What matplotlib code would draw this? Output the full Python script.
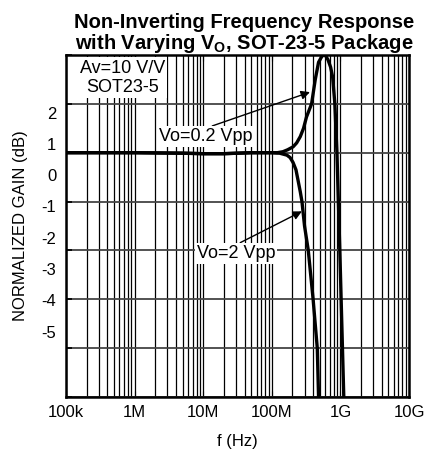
import numpy as np
import matplotlib.pyplot as plt

plt.rcParams['font.family'] = ['Liberation Sans', 'DejaVu Sans']

# frequency (Hz) and normalized gain (dB)
f_small = [1e5, 1e6, 5e6, 1e7, 2e7, 5e7, 1.0e8, 1.2e8, 1.45e8, 1.7e8, 2.04e8, 2.3e8,
           2.6e8, 2.9e8, 3.2e8, 3.8e8, 4.3e8, 4.8e8, 5.4e8, 6.0e8, 6.6e8, 7.2e8,
           7.7e8, 8.3e8, 8.9e8, 9.8e8, 1.12e9]
g_small = [0.0, 0.0, -0.01, -0.02, -0.02, 0.0, 0.0, 0.0, 0.02, 0.06, 0.12, 0.2,
           0.33, 0.5, 0.73, 1.0, 1.5, 1.85, 1.98, 2.0, 1.9, 1.75,
           1.55, 1.0, 0.0, -2.0, -5.0]

f_large = [1e5, 1e6, 5e6, 1e7, 2e7, 5e7, 1.0e8, 1.3e8, 1.66e8, 1.85e8, 2.04e8, 2.25e8,
           2.4e8, 2.6e8, 2.75e8, 3.0e8, 3.4e8, 4.0e8, 4.6e8, 4.8e8]
g_large = [0.0, 0.0, -0.01, -0.02, -0.02, 0.0, 0.0, -0.01, -0.05, -0.1, -0.2, -0.35,
           -0.55, -0.8, -1.0, -1.5, -2.0, -3.0, -4.0, -5.0]

xticks = [1e5, 1e6, 1e7, 1e8, 1e9, 1e10]
xlabels = ['100k', '1M', '10M', '100M', '1G', '10G']
ylabels = ['2', '1', '0', '-1', '-2', '-3', '-4', '-5']

fig = plt.figure(figsize=(4.32, 4.5), dpi=100)
ax = fig.add_axes([0.1528, 0.1178, 0.794, 0.76])

ax.plot(f_small, g_small, color='black', lw=2.4, solid_capstyle='butt', zorder=3)
ax.plot(f_large, g_large, color='black', lw=2.4, solid_capstyle='butt', zorder=3)

ax.set_xscale('log')
ax.set_xlim(1e5, 1e10)
ax.set_ylim(-5, 2)
ax.set_xticks(xticks)
ax.set_xticklabels(xlabels, fontsize=12)
ax.xaxis.set_minor_locator(plt.matplotlib.ticker.LogLocator(base=10, subs=np.arange(2, 10)))
ax.xaxis.set_minor_formatter(plt.NullFormatter())

# gridlines every 1 dB; the labels sit offset from them as in the original
ax.set_yticks(np.arange(-5, 3))
ax.set_yticklabels([])
ypos = [0.82 - 0.64 * i for i in range(len(ylabels))]
ax.set_yticks(ypos, minor=True)
ax.set_yticklabels(ylabels, minor=True, fontsize=12)
ax.tick_params(axis='y', which='minor', length=0, pad=7)
ax.tick_params(axis='y', which='major', length=4, direction='in', width=1.2)
ax.tick_params(axis='x', which='both', direction='in', top=True, length=4, pad=6)

ax.grid(True, axis='x', which='both', color='black', lw=0.9)
ax.grid(True, axis='y', which='major', color='#444444', lw=1.3)
for s in ax.spines.values():
    s.set_linewidth(1.8)

ax.set_xlabel('f (Hz)', fontsize=12, labelpad=10)
ax.set_ylabel('NORMALIZED GAIN (dB)', fontsize=12, labelpad=10)
ax.set_title('Non-Inverting Frequency Response\nwith Varying V$_\\mathregular{O}$, SOT-23-5 Package',
             fontsize=14.5, fontweight='bold', linespacing=1.0, pad=4, x=0.52)

box = dict(boxstyle='square,pad=0.12', fc='white', ec='none')
ax.text(6.6e5, 1.53, 'Av=10 V/V\nSOT23-5', fontsize=13, ha='center', va='center',
        bbox=box, linespacing=1.2)

ax.annotate('Vo=0.2 Vpp', xy=(3.6e8, 1.24), xytext=(1.1e7, 0.33), fontsize=13,
            ha='center', va='center', bbox=box,
            arrowprops=dict(arrowstyle='-|>', color='black', lw=1.0,
                            mutation_scale=13, shrinkA=0, shrinkB=0,
                            relpos=(0.5, 1.0)))
ax.annotate('Vo=2 Vpp', xy=(2.75e8, -1.2), xytext=(3.0e7, -2.06), fontsize=13,
            ha='center', va='center', bbox=box,
            arrowprops=dict(arrowstyle='-|>', color='black', lw=1.0,
                            mutation_scale=13, shrinkA=0, shrinkB=0,
                            relpos=(0.5, 1.0)))

fig.savefig('out.png', dpi=100)
